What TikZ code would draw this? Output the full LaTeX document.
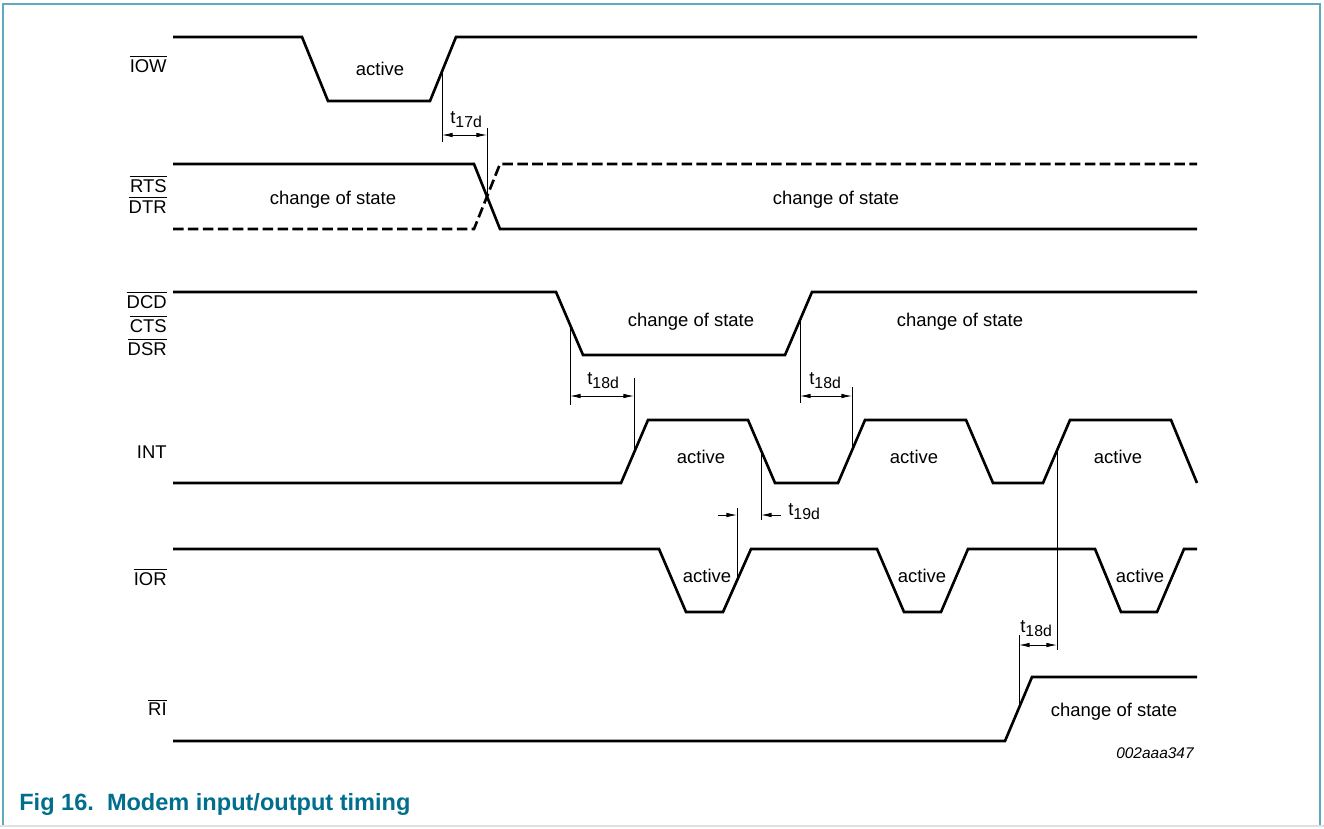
\documentclass[tikz,border=0pt]{standalone}
\usepackage{fontspec}
\setmainfont{Liberation Sans}
\usetikzlibrary{arrows.meta}
\definecolor{figblue}{RGB}{0,110,140}
\definecolor{framecol}{RGB}{95,170,190}
\newcommand{\ovl}[1]{$\overline{\mbox{#1}}$}
\newcommand{\tdel}[1]{t\raisebox{-2.3pt}{\fontsize{9}{10}\selectfont #1}}
\begin{document}
\begin{tikzpicture}[x=0.02cm,y=-0.02cm,
  wave/.style={line width=1.5pt},
  dashwave/.style={line width=1.5pt,dash pattern=on 6pt off 2.5pt},
  dim/.style={line width=0.5pt},
  tip/.style={line width=0.5pt,-{Latex[length=6pt,width=2.6pt]}},
  dimarr/.style={line width=0.5pt,{Latex[length=6pt,width=2.6pt]}-{Latex[length=6pt,width=2.6pt]}},
  sig/.style={anchor=base east,inner sep=0pt,font=\fontsize{10.5}{12}\selectfont},
  txt/.style={anchor=base,inner sep=0pt,font=\fontsize{10.5}{12}\selectfont},
  tl/.style={anchor=base west,inner sep=0pt,font=\fontsize{10.5}{12}\selectfont}]
\useasboundingbox (0,0) rectangle (1324,828);
\draw[framecol,line width=0.8pt] (3,826) -- (3,4) -- (1320,4) -- (1320,826);
\draw[black!12,line width=0.8pt] (0,826) -- (1324,826);
% signal names
\node[sig] (nIOW) at (167,72) {\ovl{IOW}};
\node[sig] (nRTS) at (167,192) {\ovl{RTS}};
\node[sig] (nDTR) at (167,213) {\ovl{DTR}};
\node[sig] (nDCD) at (167,308) {\ovl{DCD}};
\node[sig] (nCTS) at (167,332) {\ovl{CTS}};
\node[sig] (nDSR) at (167,355) {\ovl{DSR}};
\node[sig] (nINT) at (167,458) {INT};
\node[sig] (nIOR) at (167,585) {\ovl{IOR}};
\node[sig] (nRI) at (167,715) {\ovl{RI}};
% waveforms
\draw[wave] (173,37) -- (302,37) -- (328,101) -- (430,101) -- (456,37) -- (1197,37);
\draw[wave] (173,164) -- (474,164) -- (500,229) -- (1197,229);
\draw[dashwave] (173,229) -- (474,229) -- (500,164) -- (1197,164);
\draw[wave] (173,292) -- (556,292) -- (583,355) -- (785,355) -- (812,292) -- (1197,292);
\draw[wave] (173,483) -- (621,483) -- (648,420) -- (748,420) -- (775,483) -- (838,483)
  -- (865,420) -- (966,420) -- (993,483) -- (1043,483) -- (1070,420) -- (1171,420) -- (1197,483);
\draw[wave] (173,549) -- (659,549) -- (686,612) -- (723,612) -- (751,549) -- (877,549)
  -- (904,612) -- (941,612) -- (968,549) -- (1095,549) -- (1121,612) -- (1157,612) -- (1184,549) -- (1197,549);
\draw[wave] (173,741) -- (1005,741) -- (1032,677) -- (1197,677);
% state texts
\node[txt] (aIOW) at (380,75) {active};
\node[txt] (cRTS1) at (333,204) {change of state};
\node[txt] (cRTS2) at (836,204) {change of state};
\node[txt] (cDCD1) at (691,326) {change of state};
\node[txt] (cDCD2) at (960,326) {change of state};
\node[txt] (aINT1) at (701,463) {active};
\node[txt] (aINT2) at (914,463) {active};
\node[txt] (aINT3) at (1118,463) {active};
\node[txt] (aIOR1) at (707,582) {active};
\node[txt] (aIOR2) at (922,582) {active};
\node[txt] (aIOR3) at (1140,582) {active};
\node[txt] (cRI) at (1114,716) {change of state};
% timing marks
\draw[dim] (442,70) -- (442,142);
\draw[dim] (487,128) -- (487,197);
\draw[dimarr] (442,135) -- (487,135);
\node[tl] (t17) at (450,123) {\tdel{17d}};
\draw[dim] (570,325) -- (570,405);
\draw[dim] (634,378) -- (634,453);
\draw[dimarr] (570,396) -- (634,396);
\node[tl] (t18a) at (587,384) {\tdel{18d}};
\draw[dim] (800,320) -- (800,403);
\draw[dim] (852,387) -- (852,450);
\draw[dimarr] (800,396) -- (852,396);
\node[tl] (t18b) at (809,384) {\tdel{18d}};
\draw[dim] (761,450) -- (761,520);
\draw[dim] (737,508) -- (737,580);
\draw[tip] (718,515) -- (737,515);
\draw[tip] (781,515) -- (761,515);
\node[tl] (t19) at (788,515) {\tdel{19d}};
\draw[dim] (1019,635) -- (1019,708);
\draw[dim] (1057,451) -- (1057,650);
\draw[dimarr] (1019,645) -- (1057,645);
\node[tl] (t18c) at (1020,632) {\tdel{18d}};
\node[anchor=base east,inner sep=0pt,font=\fontsize{8.8}{10}\selectfont\itshape] (code) at (1194,758) {002aaa347};
\node[anchor=base west,inner sep=0pt,text=figblue,font=\fontsize{13.4}{15}\selectfont\bfseries] (cap) at (19,810) {Fig 16.\ \ Modem input/output timing};
\end{tikzpicture}
\end{document}
